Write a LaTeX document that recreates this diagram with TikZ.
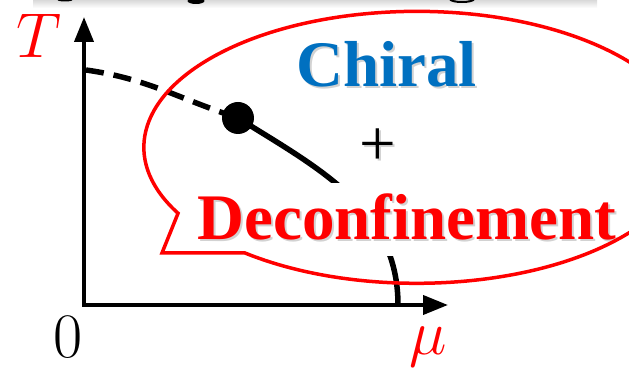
\documentclass[tikz,border=0pt]{standalone}
\usepackage{fontspec}
\newfontfamily\slidefont{Liberation Serif}
\usetikzlibrary{arrows.meta}
\definecolor{chiralblue}{HTML}{0070C0}

\begin{document}
\begin{tikzpicture}[
    x=0.02cm, y=0.02cm,
    >={Triangle[length=0.5cm,width=0.38cm]},
    axisline/.style={line width=0.08cm},
    crossover/.style={line width=0.11cm, dash pattern=on 0.36cm off 0.2cm},
    firstorder/.style={line width=0.11cm},
    axislabel/.style={font=\Huge, scale=1.45, inner sep=0pt, anchor=base},
    banner/.style={font=\slidefont\bfseries\fontsize{37}{37}\selectfont, inner sep=0pt, anchor=base},
    textshadow/.style={text=gray!35},
    bubble/.style={draw=red, line width=0.07cm, line join=miter}
  ]
  \useasboundingbox (0,0) rectangle (629,368);
  \clip (0,0) rectangle (629,368);

  % cut-off slide title
  \shade[top color=gray!30, bottom color=white] (33,360) rectangle (597,368);
  \fill (65,368) ellipse [x radius=0.15cm, y radius=0.03cm];
  \fill (196,367) ellipse [x radius=0.17cm, y radius=0.06cm];
  \draw[line width=0.04cm] (450,369) arc[start angle=180, end angle=360, x radius=0.24cm, y radius=0.06cm];

  \coordinate (origin) at (84,63);
  \coordinate (tmax) at (84,351);
  \coordinate (mumax) at (448,63);
  \draw[axisline,<->] (tmax) -- (origin) -- (mumax);
  \node[axislabel, red] (tlabel) at (39,310) {$T$};
  \node[axislabel] (zero) at (68.5,10) {$0$};
  \node[axislabel, red] (mulabel) at (428,13) {$\mu$};

  \coordinate (tc) at (86,298);
  \coordinate (muc) at (398,63);
  \node[circle, fill, minimum size=0.64cm, inner sep=0pt] (cep) at (238,250) {};
  \draw[crossover] (tc) to[out=-8,in=162] (cep.center);
  \draw[firstorder] (cep.center) to[out=-32,in=90] (muc);

  \node[banner, textshadow] (chiralshadow) at (388.5,279) {Chiral};
  \node[banner, text=chiralblue] (chiral) at (386.5,281) {Chiral};
  \node[font=\slidefont\fontsize{37}{37}\selectfont, inner sep=0pt, textshadow] (plusshadow) at (380,219) {+};
  \node[font=\slidefont\fontsize{37}{37}\selectfont, inner sep=0pt] (plus) at (378,221) {+};
  \node[banner, textshadow, fill=white, inner xsep=4pt, inner ysep=0.27cm] (deconshadow) at (409,126) {Deconfinement};
  \node[banner, text=red] (decon) at (407,128) {Deconfinement};

  \draw[bubble] (245,115) arc[start angle=231, end angle=569, x radius=5.46cm, y radius=2.72cm]
    -- (162,115) -- cycle;
\end{tikzpicture}
\end{document}
